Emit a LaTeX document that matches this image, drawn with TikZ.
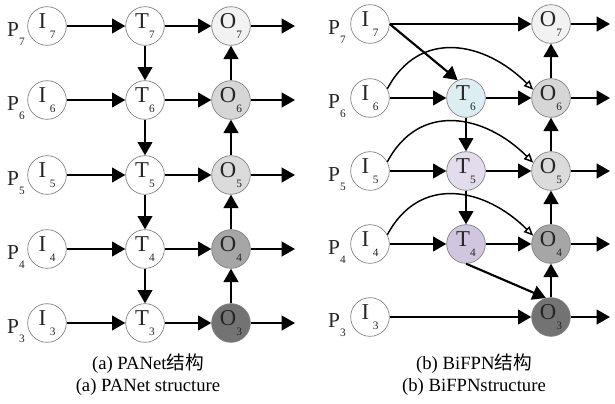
\documentclass[tikz,border=0pt]{standalone}
\usepackage{fontspec}
\setmainfont{Liberation Serif}
\newfontfamily\cjk{Noto Sans CJK SC}
\usetikzlibrary{arrows.meta}
\newcommand{\lvl}[1]{\raisebox{-0.45em}{\fontsize{8.5}{8.5}\selectfont #1}}
\tikzset{
    ring/.style={circle, draw=black!50, line width=0.5pt, minimum size=29pt, inner sep=0pt, text=black!85, font=\fontsize{17}{17}\selectfont},
    plab/.style={anchor=east, inner sep=0pt, text=black!85, font=\fontsize{16}{16}\selectfont},
    captext/.style={inner sep=0pt, font=\fontsize{14}{14}\selectfont},
    arr/.style={line width=1.6pt, -{Triangle[length=10pt,width=11pt]}},
    hop/.style={line width=1.1pt, -{Triangle[open,length=7pt,width=6pt]}},
}
\definecolor{tsix}{HTML}{DCEEF2}
\definecolor{tfive}{HTML}{E2DCEC}
\definecolor{tfour}{HTML}{D0C6E0}
\begin{document}
\begin{tikzpicture}[x=0.75pt, y=-0.75pt]
        \useasboundingbox (0,0) rectangle (615,404);

        % (a) PANet
        \foreach \k/\y/\g in {7/26/5, 6/100/16, 5/175/14, 4/249/35, 3/323/55} {
            \node[plab] (aP\k) at (25,\y+8) {P\lvl{\k}};
            \node[ring] (aI\k) at (47,\y) {I\,\lvl{\k}};
            \node[ring] (aT\k) at (145,\y) {T\lvl{\k}};
            \node[ring, fill=black!\g] (aO\k) at (231,\y) {O\lvl{\k}};
            \coordinate (aE\k) at (295,\y);
            \draw[arr] (aI\k) -- (aT\k);
            \draw[arr] (aT\k) -- (aO\k);
            \draw[arr] (aO\k) -- (aE\k);
        }
        \foreach \a/\b in {7/6, 6/5, 5/4, 4/3} {
            \draw[arr] (aT\a) -- (aT\b);
            \draw[arr] (aO\b) -- (aO\a);
        }

        % (b) BiFPN
        \foreach \k/\y/\g in {7/24/5, 6/98/16, 5/171/14, 4/244/35, 3/317/55} {
            \node[plab] (bP\k) at (346,\y+8) {P\lvl{\k}};
            \node[ring] (bI\k) at (370,\y) {I\,\lvl{\k}};
            \node[ring, fill=black!\g] (bO\k) at (551,\y) {O\lvl{\k}};
            \coordinate (bE\k) at (610,\y);
            \draw[arr] (bO\k) -- (bE\k);
        }
        \node[ring, fill=tsix] (bT6) at (466,98) {T\lvl{6}};
        \node[ring, fill=tfive] (bT5) at (466,171) {T\lvl{5}};
        \node[ring, fill=tfour] (bT4) at (466,244) {T\lvl{4}};

        \draw[arr] (bI7.east) -- (bO7);
        \draw[arr] (bI7.east) -- (bT6.115);
        \foreach \k in {6, 5, 4} {
            \draw[arr] (bI\k) -- (bT\k);
            \draw[arr] (bT\k) -- (bO\k);
            \draw[hop] (bI\k.28) to[out=62, in=135, looseness=1.2] (bO\k.155);
        }
        \draw[arr] (bT6) -- (bT5);
        \draw[arr] (bT5) -- (bT4);
        \draw[arr] (bT4.south) -- (bO3.105);
        \draw[arr] (bI3) -- (bO3);
        \foreach \a/\b in {7/6, 6/5, 5/4, 4/3} {
            \draw[arr] (bO\b) -- (bO\a);
        }

        % captions
        \node[captext] (capA) at (148,364) {(a) PANet{\cjk 结构}};
        \node[captext] (capAen) at (148,387) {(a) PANet structure};
        \node[captext] (capB) at (474,364) {(b) BiFPN{\cjk 结构}};
        \node[captext] (capBen) at (474,387) {(b) BiFPNstructure};
\end{tikzpicture}
\end{document}
